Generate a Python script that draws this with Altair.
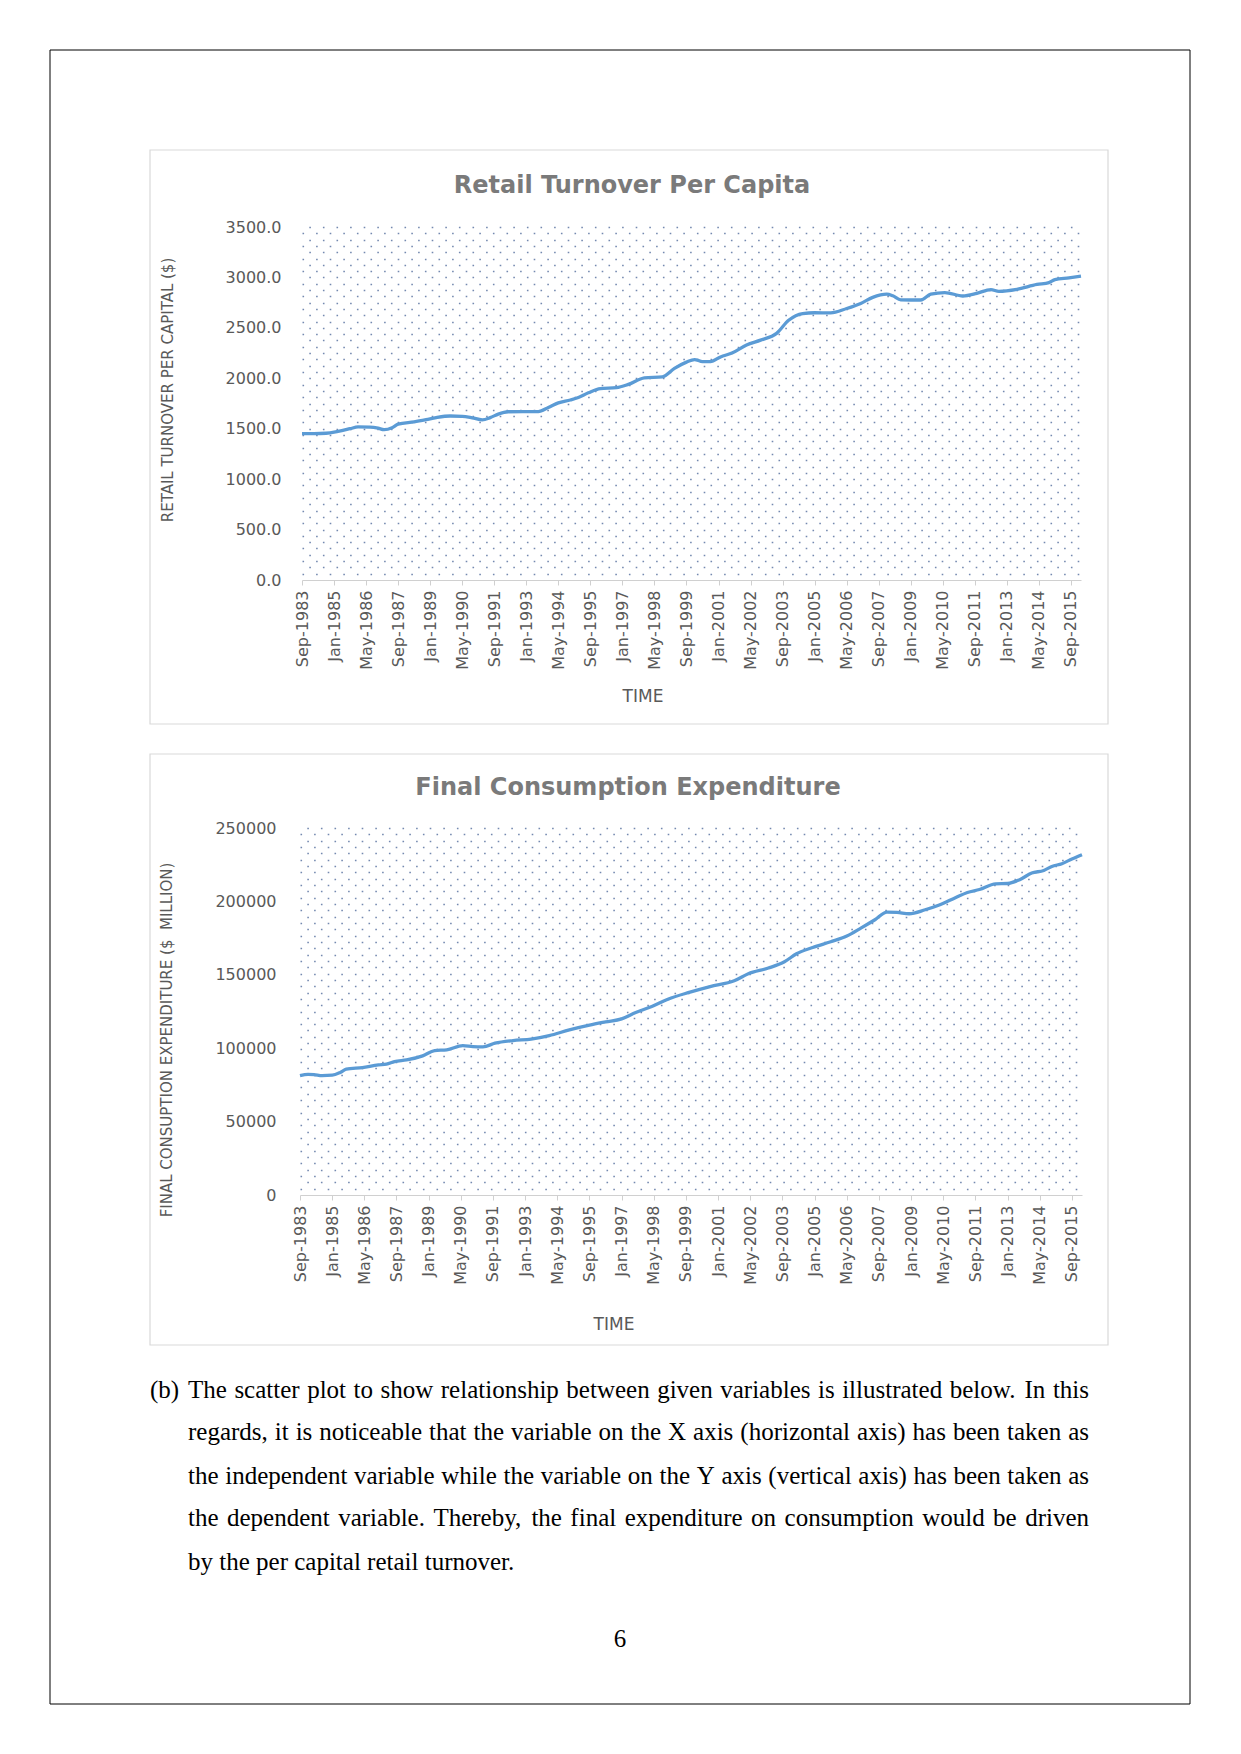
import altair as alt
import pandas as pd

# ---------------- data ----------------
TICK_LABELS = ["Sep-1983", "Jan-1985", "May-1986", "Sep-1987", "Jan-1989", "May-1990",
               "Sep-1991", "Jan-1993", "May-1994", "Sep-1995", "Jan-1997", "May-1998",
               "Sep-1999", "Jan-2001", "May-2002", "Sep-2003", "Jan-2005", "May-2006",
               "Sep-2007", "Jan-2009", "May-2010", "Sep-2011", "Jan-2013", "May-2014",
               "Sep-2015"]
TICK_MONTHS = [0, 16, 32, 48, 64, 80, 96, 112, 128, 144, 160, 176, 192, 208, 224, 240,
               256, 272, 288, 304, 320, 336, 352, 368, 384]

# months after Sep-1983
RT_MONTHS = [0, 6, 12, 18, 24, 28, 34, 38, 41, 45, 48, 56, 62, 67, 74, 80, 85, 90, 94, 98,
             103, 110, 118, 123, 128, 134, 138, 143, 149, 157, 163, 171, 180, 186, 192, 196,
             200, 204, 209, 215, 222, 229, 237, 243, 250, 256, 264, 272, 279, 285, 292, 295,
             299, 309, 314, 321, 330, 337, 344, 348, 357, 367, 373, 376, 383, 389]
RT_VALUES = [1452, 1452, 1455, 1474, 1500, 1518, 1516, 1505, 1490, 1510, 1545, 1568, 1590,
             1610, 1626, 1623, 1608, 1588, 1610, 1645, 1668, 1670, 1670, 1710, 1756, 1785,
             1810, 1856, 1898, 1907, 1940, 2005, 2015, 2098, 2160, 2186, 2165, 2165, 2212,
             2253, 2330, 2378, 2445, 2575, 2642, 2650, 2648, 2692, 2742, 2802, 2834, 2818,
             2778, 2776, 2834, 2850, 2816, 2842, 2880, 2862, 2882, 2930, 2948, 2978, 2995,
             3012]

FC_MONTHS = [0, 4, 7, 11, 16, 20, 23, 31, 39, 43, 47, 53, 61, 67, 73, 81, 86, 91, 97, 106,
             115, 124, 134, 144, 152, 160, 167, 175, 183, 194, 204, 216, 223, 233, 241, 247,
             255, 264, 272, 279, 286, 292, 297, 303, 311, 318, 326, 332, 338, 346, 352, 358,
             364, 370, 374, 379, 384, 389]
FC_VALUES = [81300, 82200, 82000, 81300, 81600, 83500, 85700, 86800, 88600, 89100, 90900,
             92000, 94800, 98400, 98900, 101800, 101100, 100900, 103400, 105200, 106200,
             108600, 112500, 115700, 117900, 120000, 124300, 128400, 133400, 138200, 142000,
             145900, 150700, 154600, 158900, 164300, 168600, 172500, 176400, 181800, 187500,
             192700, 192500, 191600, 194300, 197500, 202500, 206100, 208100, 212000, 212200,
             214800, 219300, 221100, 223800, 225700, 228900, 231800]

RT_YTICKS = [0, 500, 1000, 1500, 2000, 2500, 3000, 3500]
FC_YTICKS = [0, 50000, 100000, 150000, 200000, 250000]

PARAGRAPH = [
    "The scatter plot to show relationship between given variables is illustrated below. In this",
    "regards, it is noticeable that the variable on the X axis (horizontal axis) has been taken as",
    "the independent variable while the variable on the Y axis (vertical axis) has been taken as",
    "the dependent variable. Thereby, the final expenditure on consumption would be driven",
    "by the per capital retail turnover.",
]
JUSTIFY = [True, True, True, True, False]

df1 = pd.DataFrame({"m": RT_MONTHS, "v": RT_VALUES})
df2 = pd.DataFrame({"m": FC_MONTHS, "v": FC_VALUES})

# ---------------- layout (page pixels) ----------------
OX, OY = 302, 227          # page position of the layered view origin
VW, VH = 779, 353          # view = plot area of first chart
CANVAS_W, CANVAS_H = 1225, 1738


def px(x):
    return x - OX


def py(y):
    return y - OY


BLUE = "#5b9bd5"
LABEL = "#595959"
TITLE = "#7a7a7a"
AXIS = "#d0d0d0"
DOT = "#7489b0"
FONT = "DejaVu Sans"
SERIF = "Liberation Serif"
BODY_SIZE = 25

# Times-compatible advance widths (em) for justifying the paragraph
TW = {c: 0.5 for c in "bdghknopquvxy0123456789"}
TW.update({c: 0.444 for c in "acez"})
TW.update({"f": 0.333, "r": 0.333, "s": 0.389, "i": 0.278, "j": 0.278, "l": 0.278,
           "t": 0.278, "m": 0.778, "w": 0.722, "T": 0.611, "X": 0.722, "Y": 0.722,
           "I": 0.333, "(": 0.333, ")": 0.333, ",": 0.25, ".": 0.25, " ": 0.25})


def word_width(w):
    return sum(TW.get(c, 0.5) for c in w) * BODY_SIZE


label_expr = "[" + ",".join("'%s'" % t for t in TICK_LABELS) + "][round(datum.value/16)]"


def text_layer(txt, x, y, size, font, color="#000000", weight="normal", angle=0,
               align="center", baseline="middle"):
    return alt.Chart(alt.Data(values=[{"t": txt}])).mark_text(
        font=font, fontSize=size, fontWeight=weight, color=color, angle=angle,
        align=align, baseline=baseline
    ).encode(x=alt.value(px(x)), y=alt.value(py(y)), text="t:N")


def box(x1, y1, x2, y2, color, width):
    return alt.Chart(alt.Data(values=[{"k": 0}])).mark_rect(
        fillOpacity=0, stroke=color, strokeWidth=width
    ).encode(x=alt.value(px(x1)), x2=alt.value(px(x2)),
             y=alt.value(py(y1)), y2=alt.value(py(y2)))


def dot_rows(df, ydom, yrange, xrange, values, offset):
    return alt.Chart(df).mark_point(opacity=0).encode(
        x=alt.X("m:Q", scale=alt.Scale(domain=[0, 389], range=xrange, nice=False, zero=False),
                axis=None),
        y=alt.Y("v:Q", scale=alt.Scale(domain=ydom, range=yrange, nice=False, zero=False),
                axis=alt.Axis(orient="left", grid=True, labels=False, ticks=False,
                              domain=False, title=None, values=values,
                              gridDash=[1.6, 12.0], gridDashOffset=offset,
                              gridColor=DOT, gridWidth=1.6, gridOpacity=1)),
    )


def line_chart(df, ydom, yrange, xrange, yticks, yfmt, ylabpad, xoffset):
    return alt.Chart(df).mark_line(color=BLUE, strokeWidth=3.3, interpolate="monotone").encode(
        x=alt.X("m:Q",
                scale=alt.Scale(domain=[0, 389], range=xrange, nice=False, zero=False),
                axis=alt.Axis(orient="bottom", offset=xoffset, values=TICK_MONTHS,
                              labelExpr=label_expr, labelAngle=-90, labelFont=FONT,
                              labelFontSize=16, labelColor=LABEL, labelPadding=5,
                              tickSize=5, tickColor=AXIS, domainColor=AXIS, grid=False,
                              title=None, labelOverlap=False, labelFlush=False,
                              labelBound=False)),
        y=alt.Y("v:Q",
                scale=alt.Scale(domain=ydom, range=yrange, nice=False, zero=False),
                axis=alt.Axis(orient="left", values=yticks, format=yfmt, ticks=False,
                              domain=False, grid=False, labelPadding=ylabpad, title=None,
                              labelFont=FONT, labelFontSize=16, labelColor=LABEL,
                              labelOverlap=False, labelFlush=False, labelBound=False)),
    )


# chart 1 geometry
c1_x = [px(302), px(1081)]
c1_y = [py(580), py(227)]
# chart 2 geometry
c2_x = [px(300), px(1082)]
c2_y = [py(1195), py(828)]

rows1 = [62.5 * k for k in range(1, 57)]
rows2 = [250000 / 58 * k for k in range(1, 59)]

layers = [
    box(50, 50, 1190, 1704, "#000000", 1),
    box(150, 150, 1108, 724, "#d9d9d9", 1.2),
    box(150, 754, 1108, 1345, "#d9d9d9", 1.2),
    dot_rows(df1, [0, 3500], c1_y, c1_x, rows1[0::2], 0),
    dot_rows(df1, [0, 3500], c1_y, c1_x, rows1[1::2], 6.8),
    dot_rows(df2, [0, 250000], c2_y, c2_x, rows2[0::2], 0),
    dot_rows(df2, [0, 250000], c2_y, c2_x, rows2[1::2], 6.8),
    line_chart(df1, [0, 3500], c1_y, c1_x, RT_YTICKS, ".1f", 21, 0),
    line_chart(df2, [0, 250000], c2_y, c2_x, FC_YTICKS, "d", 26, py(1195) - VH),
    text_layer("Retail Turnover Per Capita", 632, 186, 24, FONT, TITLE, "bold"),
    text_layer("Final Consumption Expenditure", 628, 788, 24, FONT, TITLE, "bold"),
    text_layer("RETAIL TURNOVER PER CAPITAL ($)", 168, 390, 15, FONT, LABEL, angle=270),
    text_layer("FINAL CONSUPTION EXPENDITURE ($\u00a0 MILLION)", 167, 1040, 15, FONT, LABEL,
               angle=270),
    text_layer("TIME", 643, 697, 17, FONT, LABEL),
    text_layer("TIME", 614, 1325, 17, FONT, LABEL),
    text_layer("(b)", 150, 1398, BODY_SIZE, SERIF, align="left", baseline="alphabetic"),
]

TEXT_LEFT, TEXT_RIGHT = 188, 1089
for line, yc, just in zip(PARAGRAPH, [1390, 1432, 1476, 1518, 1562], JUSTIFY):
    base = yc + 8
    if not just:
        layers.append(text_layer(line, TEXT_LEFT, base, BODY_SIZE, SERIF, align="left",
                                 baseline="alphabetic"))
        continue
    words = line.split(" ")
    widths = [word_width(w) for w in words]
    gap = (TEXT_RIGHT - TEXT_LEFT - sum(widths)) / (len(words) - 1)
    x = TEXT_LEFT
    for i, (w, wd) in enumerate(zip(words, widths)):
        if i == len(words) - 1:
            layers.append(text_layer(w, TEXT_RIGHT, base, BODY_SIZE, SERIF, align="right",
                                     baseline="alphabetic"))
        else:
            layers.append(text_layer(w, x, base, BODY_SIZE, SERIF, align="left",
                                     baseline="alphabetic"))
        x += wd + gap

layers.append(text_layer("6", 620, 1647, BODY_SIZE, SERIF, baseline="alphabetic"))

chart = alt.layer(*layers).resolve_scale(
    x="independent", y="independent"
).properties(
    width=VW, height=VH,
    padding={"left": OX - 8, "top": OY - 8,
             "right": CANVAS_W - (OX - 8) - VW, "bottom": CANVAS_H - (OY - 8) - VH},
    autosize=alt.AutoSizeParams(type="none"),
    background="white",
).configure_view(stroke="transparent")

chart.save("out.html", embed_options={"renderer": "svg", "actions": False})
